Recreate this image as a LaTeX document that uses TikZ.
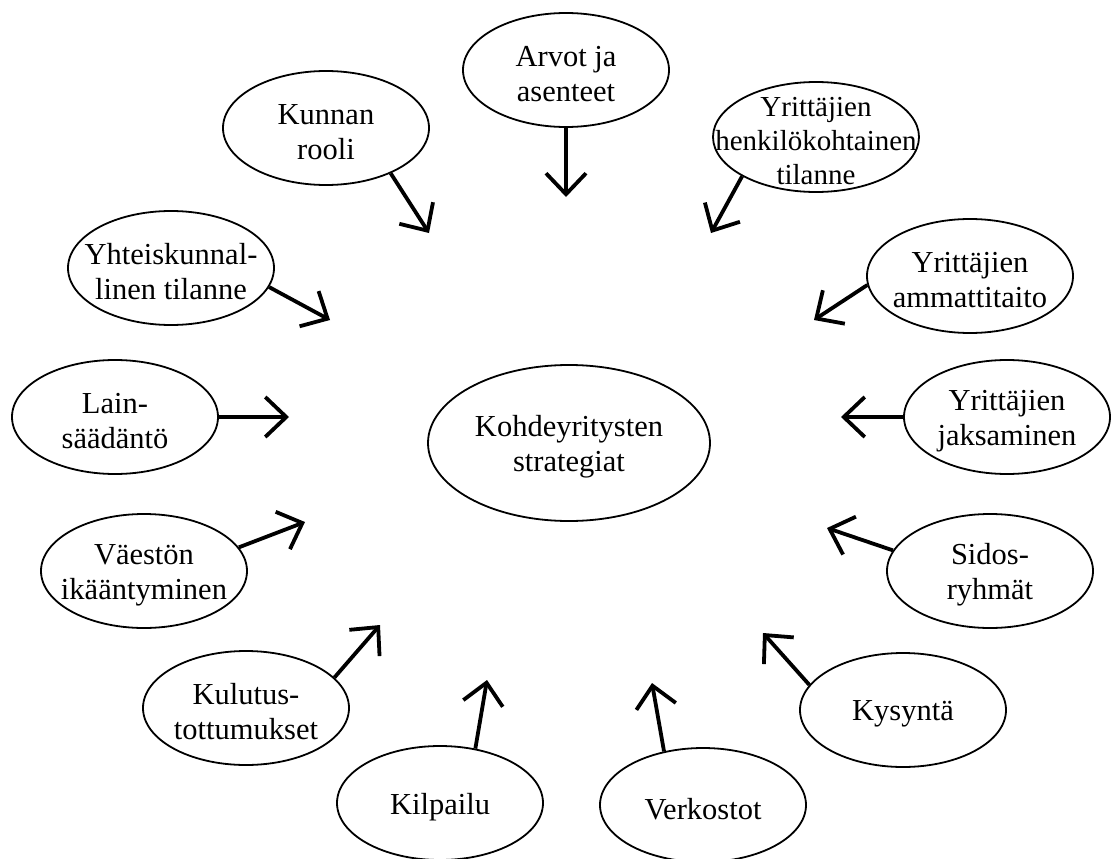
\documentclass[tikz,border=0pt]{standalone}
\usepackage{fontspec}
\setmainfont{Liberation Serif}
\usetikzlibrary{shapes.geometric,arrows.meta}
\begin{document}
\begin{tikzpicture}[x=1pt,y=-1pt,
  bub/.style={ellipse,draw,line width=1.8pt,minimum width=206pt,minimum height=114pt,inner sep=0pt},
  lbl/.style={align=center,inner sep=0pt,yshift=-4pt,font=\fontsize{30.5}{35}\selectfont},
  arr/.style={line width=3.8pt,-{Straight Barb[length=21pt,width=40pt]}}]
\useasboundingbox[fill=white] (0,0) rectangle (1111,859);
% ellipses
\node[bub] (arv) at (566,70) {};
\node[bub] (kun) at (326,128) {};
\node[bub,minimum height=110pt] (hen) at (816,137) {};
\node[bub] (yht) at (171,268) {};
\node[bub] (amm) at (970,276) {};
\node[bub] (lai) at (115,417) {};
\node[bub,minimum width=282pt,minimum height=156pt] (koh) at (569,443) {};
\node[bub] (jak) at (1007,417) {};
\node[bub] (vae) at (144,571) {};
\node[bub] (sid) at (990,571) {};
\node[bub] (kul) at (246,708) {};
\node[bub] (kys) at (903,710) {};
\node[bub] (kil) at (440,803) {};
\node[bub] (ver) at (703,805) {};
% texts
\node[lbl] (tarv) at (arv) {Arvot ja\\asenteet};
\node[lbl] (tkun) at (kun) {Kunnan\\rooli};
\node[lbl,font=\fontsize{29}{34}\selectfont] (then) at (hen) {Yrittäjien\\henkilökohtainen\\tilanne};
\node[lbl] (tyht) at (yht) {Yhteiskunnal-\\linen tilanne};
\node[lbl] (tamm) at (amm) {Yrittäjien\\ammattitaito};
\node[lbl] (tlai) at (lai) {Lain-\\säädäntö};
\node[lbl] (tkoh) at (koh) {Kohdeyritysten\\strategiat};
\node[lbl] (tjak) at (jak) {Yrittäjien\\jaksaminen};
\node[lbl] (tvae) at (vae) {Väestön\\ikääntyminen};
\node[lbl] (tsid) at (sid) {Sidos-\\ryhmät};
\node[lbl] (tkul) at (kul) {Kulutus-\\tottumukset};
\node[lbl] (tkys) at (kys) {Kysyntä};
\node[lbl] (tkil) at (kil) {Kilpailu};
\node[lbl] (tver) at (ver) {Verkostot};
% arrow tips
\coordinate (parv) at (566,197);
\coordinate (pkun) at (429,233);
\coordinate (phen) at (711,233);
\coordinate (pyht) at (330,320);
\coordinate (pamm) at (814,320);
\coordinate (plai) at (289,417);
\coordinate (pjak) at (841,417);
\coordinate (pvae) at (305,522);
\coordinate (psid) at (827,528);
\coordinate (pkul) at (380,625);
\coordinate (pkys) at (763,633);
\coordinate (pkil) at (487,680);
\coordinate (pver) at (652,683);
% arrows
\draw[arr] (arv.south) -- (parv);
\draw[arr] (kun.-35) -- (pkun);
\draw[arr] (hen.-152) -- (phen);
\draw[arr] (yht.-11) -- (pyht);
\draw[arr] (amm.-175) -- (pamm);
\draw[arr] (lai.east) -- (plai);
\draw[arr] (jak.west) -- (pjak);
\draw[arr] (vae.14) -- (pvae);
\draw[arr] (sid.168) -- (psid);
\draw[arr] (kul.19) -- (pkul);
\draw[arr] (kys.165) -- (pkys);
\draw[arr] (kil.57) -- (pkil);
\draw[arr] (ver.126) -- (pver);
\end{tikzpicture}
\end{document}
